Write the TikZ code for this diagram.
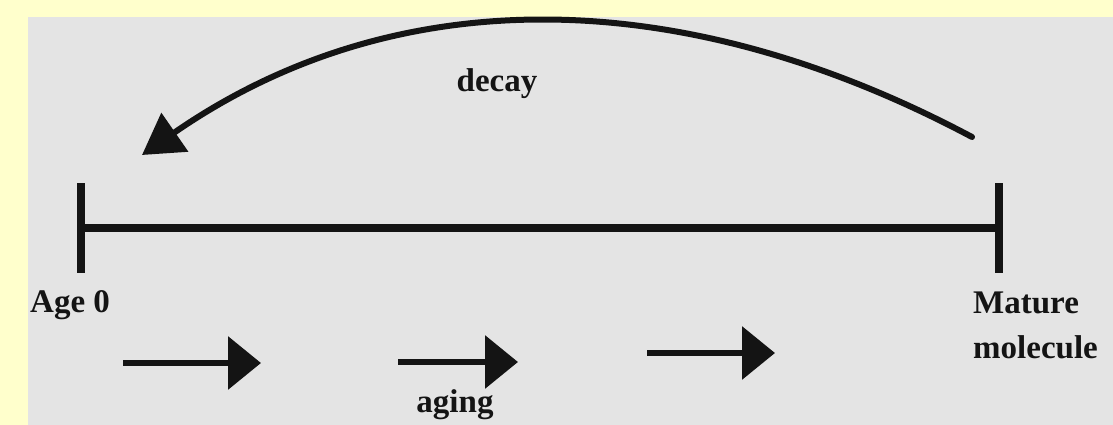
\documentclass[tikz,border=0pt]{standalone}
\usepackage{fontspec}
\setmainfont{Liberation Serif}
\usetikzlibrary{arrows.meta,calc}
\definecolor{pagebg}{HTML}{FFFFCC}
\definecolor{panel}{HTML}{E4E4E4}
\definecolor{ink}{HTML}{141414}
\tikzset{
  axisline/.style={draw=ink,line width=8pt},
  tickline/.style={draw=ink,line width=8pt,line cap=butt},
  decayarc/.style={draw=ink,line width=6pt,line cap=round,
    -{Triangle[length=40pt,width=46pt]}},
  agearrow/.style={draw=ink,line width=6.5pt,
    -{Triangle[length=33pt,width=52pt]}},
  lbl/.style={text=ink,inner sep=0pt,font=\fontsize{33}{45}\selectfont\bfseries}
}
\begin{document}
\begin{tikzpicture}[x=1pt,y=-1pt]
  % backdrop and grey panel
  \fill[pagebg] (0,0) rectangle (1113,425);
  \fill[panel] (28,17) rectangle (1113,425);
  \useasboundingbox (0,0) rectangle (1113,425);

  % time axis with end ticks
  \coordinate (L) at (81,228);
  \coordinate (R) at (999,228);
  \draw[axisline] (L) -- (R);
  \draw[tickline] ($(L)+(0,-45)$) -- ($(L)+(0,45)$);
  \draw[tickline] ($(R)+(0,-45)$) -- ($(R)+(0,45)$);

  % end labels
  \node[lbl,anchor=base west] (age) at (30,312) {Age 0};
  \node[lbl,anchor=north west,align=left] (mature) at (973,292) {Mature\\molecule};

  % decay arc back to age 0
  \coordinate (ds) at (972,137);
  \coordinate (de) at (142,155);
  \draw[decayarc] (ds) .. controls (679,-19) and (393,-19) .. (de);
  \node[lbl,anchor=base] (decay) at (497,92) {decay};

  % aging arrows
  \coordinate (a1s) at (123,363);
  \coordinate (a1e) at (261,363);
  \coordinate (a2s) at (398,362);
  \coordinate (a2e) at (518,362);
  \coordinate (a3s) at (647,353);
  \coordinate (a3e) at (775,353);
  \draw[agearrow] (a1s) -- (a1e);
  \draw[agearrow] (a2s) -- (a2e);
  \draw[agearrow] (a3s) -- (a3e);
  \node[lbl,anchor=base] (aging) at (455,412) {aging};
\end{tikzpicture}
\end{document}
